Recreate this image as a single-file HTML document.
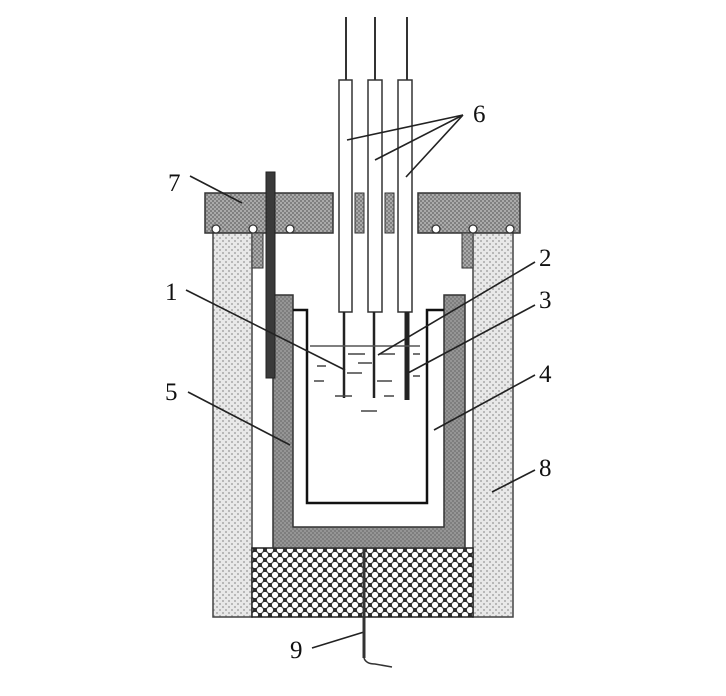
<!DOCTYPE html>
<html><head><style>html,body{margin:0;padding:0;background:#fff}svg{display:block}</style></head>
<body>
<svg width="726" height="696" viewBox="0 0 726 696" xmlns="http://www.w3.org/2000/svg" font-family="Liberation Serif, serif">
<defs>
<pattern id="lid" width="4" height="4" patternUnits="userSpaceOnUse"><rect width="4" height="4" fill="#aaaaaa"/><rect width="2" height="2" fill="#808080"/><rect x="2" y="2" width="2" height="2" fill="#808080"/></pattern>
<pattern id="wall" width="6" height="6" patternUnits="userSpaceOnUse"><rect width="6" height="6" fill="#e8e8e8"/><rect width="2" height="2" fill="#b8b8b8"/><rect x="3" y="3" width="2" height="2" fill="#b8b8b8"/></pattern>
<pattern id="sleeve" width="4" height="4" patternUnits="userSpaceOnUse"><rect width="4" height="4" fill="#959595"/><rect width="2" height="2" fill="#7e7e7e"/><rect x="2" y="2" width="2" height="2" fill="#7e7e7e"/></pattern>
<pattern id="base" width="10" height="10" patternUnits="userSpaceOnUse"><rect width="10" height="10" fill="#2a2a2a"/><circle cx="5" cy="5" r="3.1" fill="#fff"/><circle cx="0" cy="0" r="3.1" fill="#fff"/><circle cx="10" cy="0" r="3.1" fill="#fff"/><circle cx="0" cy="10" r="3.1" fill="#fff"/><circle cx="10" cy="10" r="3.1" fill="#fff"/></pattern>
</defs>
<rect x="213" y="232" width="39" height="385" fill="url(#wall)" stroke="#444" stroke-width="1.5"/>
<rect x="473" y="232" width="40" height="385" fill="url(#wall)" stroke="#444" stroke-width="1.5"/>
<rect x="252" y="548" width="221" height="69" fill="url(#base)" stroke="#222" stroke-width="1.5"/>
<path d="M273 295 H293 V527 H444 V295 H465 V548 H273 Z" fill="url(#sleeve)" stroke="#333" stroke-width="1.5"/>
<path d="M293 310 H307 V503 H427 V310 H444" fill="none" stroke="#111" stroke-width="2.5"/>
<rect x="205" y="193" width="128" height="40" fill="url(#lid)" stroke="#333" stroke-width="1.5"/>
<rect x="418" y="193" width="102" height="40" fill="url(#lid)" stroke="#333" stroke-width="1.5"/>
<rect x="355" y="193" width="9" height="40" fill="url(#lid)" stroke="#333" stroke-width="1"/>
<rect x="385" y="193" width="9" height="40" fill="url(#lid)" stroke="#333" stroke-width="1"/>
<g fill="#fff" stroke="#333" stroke-width="1.3">
<circle cx="216" cy="229" r="4"/><circle cx="253" cy="229" r="4"/><circle cx="290" cy="229" r="4"/>
<circle cx="436" cy="229" r="4"/><circle cx="473" cy="229" r="4"/><circle cx="510" cy="229" r="4"/>
</g>
<rect x="252" y="233" width="11" height="35" fill="url(#lid)" stroke="#333"/>
<rect x="462" y="233" width="11" height="35" fill="url(#lid)" stroke="#333"/>
<rect x="266" y="172" width="9" height="206" fill="#3a3a3a" stroke="#222"/>
<g stroke="#333" stroke-width="2"><line x1="346" y1="17" x2="346" y2="80"/><line x1="375" y1="17" x2="375" y2="80"/><line x1="407" y1="17" x2="407" y2="80"/></g>
<g fill="#fff" stroke="#333" stroke-width="1.5">
<rect x="339" y="80" width="13" height="232"/><rect x="368" y="80" width="14" height="232"/><rect x="398" y="80" width="14" height="232"/>
</g>
<g stroke="#222"><line x1="344" y1="312" x2="344" y2="398" stroke-width="2.5"/><line x1="374" y1="312" x2="374" y2="398" stroke-width="2.5"/><line x1="407" y1="312" x2="407" y2="400" stroke-width="5"/></g>
<line x1="310" y1="346" x2="420" y2="346" stroke="#555" stroke-width="1.5"/>
<g stroke="#444" stroke-width="1.5">
<line x1="317" y1="366" x2="326" y2="366"/><line x1="348" y1="354" x2="365" y2="354"/><line x1="380" y1="354" x2="395" y2="354"/><line x1="413" y1="354" x2="420" y2="354"/>
<line x1="358" y1="363" x2="372" y2="363"/><line x1="347" y1="373" x2="362" y2="373"/><line x1="413" y1="376" x2="420" y2="376"/>
<line x1="314" y1="381" x2="324" y2="381"/><line x1="377" y1="381" x2="392" y2="381"/><line x1="335" y1="396" x2="352" y2="396"/><line x1="384" y1="396" x2="394" y2="396"/>
<line x1="361" y1="411" x2="377" y2="411"/>
</g>
<g stroke="#222" stroke-width="1.6" fill="none">
<path d="M463 115 L347 140 M463 115 L375 160 M463 115 L406 177"/>
<line x1="190" y1="176" x2="242" y2="203"/>
<line x1="186" y1="290" x2="345" y2="370"/>
<line x1="535" y1="262" x2="378" y2="355"/>
<line x1="535" y1="305" x2="408" y2="373"/>
<line x1="188" y1="392" x2="290" y2="445"/>
<line x1="535" y1="375" x2="434" y2="430"/>
<line x1="535" y1="470" x2="492" y2="492"/>
<line x1="312" y1="648" x2="364" y2="632"/>
</g>
<line x1="364" y1="548" x2="364" y2="658" stroke="#333" stroke-width="3"/>
<path d="M364 658 Q366 664 375 664 L392 667" stroke="#333" stroke-width="1.5" fill="none"/>
<g font-size="25" fill="#111">
<text x="473" y="122">6</text><text x="168" y="191">7</text><text x="165" y="300">1</text><text x="165" y="400">5</text>
<text x="539" y="266">2</text><text x="539" y="308">3</text><text x="539" y="382">4</text><text x="539" y="476">8</text><text x="290" y="658">9</text>
</g>
</svg>
</body></html>
